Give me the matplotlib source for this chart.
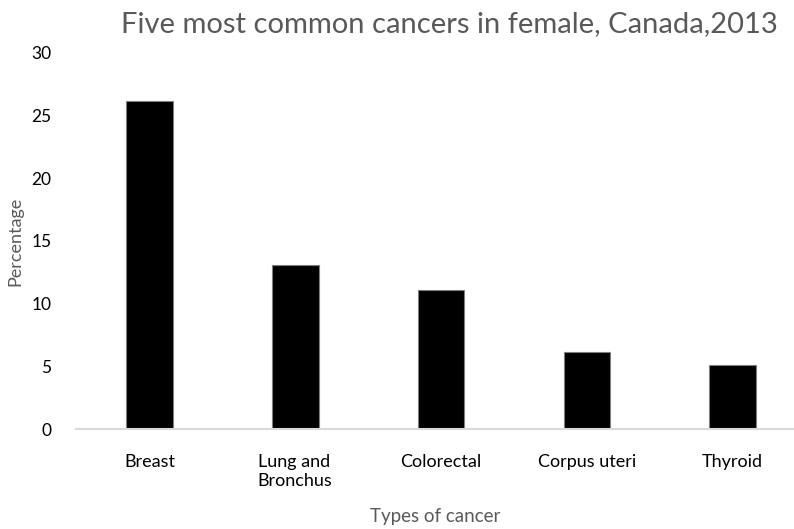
import numpy as np
import matplotlib.pyplot as plt

plt.rcParams['font.family'] = ['Lato', 'DejaVu Sans']

cancers = ['Breast', 'Lung and\nBronchus', 'Colorectal', 'Corpus uteri', 'Thyroid']
percentage = [26.2, 13.1, 11.1, 6.15, 5.1]

grey = '#595959'
x = np.arange(len(cancers))

fig = plt.figure(figsize=(7.94, 5.29), dpi=100)
ax = fig.add_axes([0.0963, 0.189, 0.9037, 0.711])

ax.bar(x, percentage, width=0.32, color='black', edgecolor='#7f7f7f', linewidth=0.8)

ax.set_xlim(-0.5, 4.42)
ax.set_ylim(0, 30)
ax.set_yticks(np.arange(0, 31, 5))
ax.set_xticks(x)
ax.set_xticklabels(cancers, fontsize=13, ha='center', va='top', multialignment='left')

for side in ['top', 'right', 'left']:
    ax.spines[side].set_visible(False)
ax.spines['bottom'].set_color('#d9d9d9')
ax.spines['bottom'].set_linewidth(1.5)

ax.tick_params(axis='y', length=0, pad=18, labelsize=12.5)
ax.tick_params(axis='x', length=0, pad=18)

ax.set_ylabel('Percentage', fontsize=13, color=grey, labelpad=6)
ax.set_xlabel('Types of cancer', fontsize=13.5, color=grey, labelpad=14)
fig.text(0.566, 0.955, 'Five most common cancers in female, Canada,2013',
         fontsize=21, color=grey, ha='center', va='center')

fig.savefig('out.png', dpi=100)
